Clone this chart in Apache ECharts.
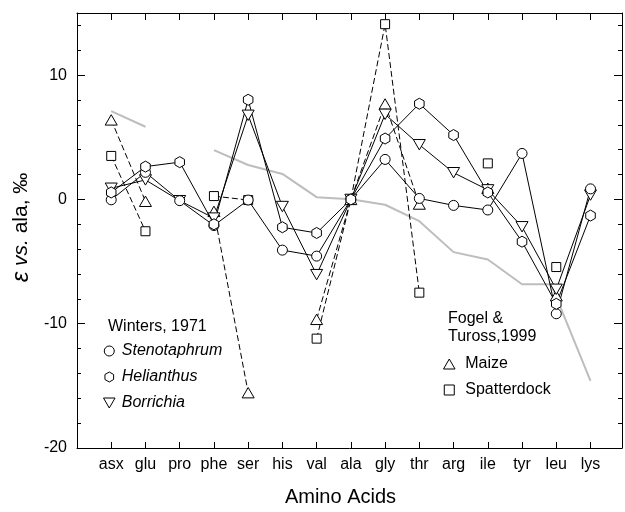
<!DOCTYPE html>
<html>
<head>
<meta charset="utf-8">
<script src="https://cdn.jsdelivr.net/npm/echarts@6/dist/echarts.min.js"></script>
<style>html,body{margin:0;padding:0;background:#fff}#c{width:625px;height:512px}</style>
</head>
<body>
<div id="c"></div>
<script>
// ---- data ----
const categories = ['asx','glu','pro','phe','ser','his','val','ala','gly','thr','arg','ile','tyr','leu','lys'];
const stenotaphrum = [-0.03, 2.18, -0.1, -2.1, -0.05, -4.08, -4.56, 0, 3.22, 0.08, -0.48, -0.85, 3.7, -9.2, 0.85];
const helianthus   = [0.56, 2.64, 3.0, -2.0, 8.02, -2.24, -2.7, 0, 4.9, 7.7, 5.18, 0.56, -3.4, -8.4, -1.3];
const borrichia    = [0.9, 1.57, -0.1, -1.5, 6.77, -0.57, -6.05, 0, 6.85, 4.4, 2.15, 0.77, -2.2, -7.23, 0.35];
const maize        = [6.4, -0.15, null, -0.96, -15.55, null, -9.65, 0, 7.68, -0.37, null, 0.9, null, -7.75, null];
const spatterdock  = [3.5, -2.56, null, 0.27, -0.05, null, -11.2, 0, 14.1, -7.5, null, 2.9, null, -5.44, null];
// grey reference line (x in category units, 1 = asx)
const refX = [1, 2, 3, 4, 5, 6, 7, 8, 9, 10, 11, 12, 13, 13.85, 15];
const refY = [7.1, 5.85, null, 3.97, 2.77, 2.05, 0.18, 0.02, -0.43, -1.75, -4.24, -4.83, -6.83, -6.83, -14.6];
const yLabelValues = [-20, -10, 0, 10];
const yMinorTicks = [-20,-18,-16,-14,-12,-10,-8,-6,-4,-2,0,2,4,6,8,10,12,14];
const yMajorTicks = [-10, 0, 10];

const FONT = 'Liberation Sans, Arial, sans-serif';
const catPos = categories.map((c, i) => i + 1);
const toPairs = arr => arr.map((v, i) => [i + 1, v]);

const SYM = {
  circle: 'circle',
  hexagon: 'path://M0,-1L0.866,-0.5L0.866,0.5L0,1L-0.866,0.5L-0.866,-0.5Z',
  triDown: 'path://M-1,0L1,0L0,1.732Z',
  triUp: 'path://M0,0L1,1.732L-1,1.732Z',
  square: 'path://M0,0L1,0L1,1L0,1Z'
};

function mkSeries(name, arr, symbol, size, dashed) {
  return {
    name: name, type: 'line', data: toPairs(arr),
    symbol: symbol, symbolSize: size, symbolKeepAspect: true,
    showAllSymbol: true, connectNulls: false,
    lineStyle: {color: '#000', width: 1, type: dashed ? [6, 3] : 'solid'},
    itemStyle: {color: '#fff', borderColor: '#000', borderWidth: 1},
    emphasis: {disabled: true}, animation: false, z: 3
  };
}

const chart = echarts.init(document.getElementById('c'), null, {renderer: 'canvas'});
const xBase = {
  type: 'value', min: 0, max: 15.92, gridIndex: 0,
  axisLine: {show: true, onZero: false, lineStyle: {color: '#000', width: 1}},
  splitLine: {show: false}
};
const yBase = {
  type: 'value', min: -20, max: 15,
  axisLine: {show: false, onZero: false},
  splitLine: {show: false},
  axisLabel: {show: false}
};
chart.setOption({
  animation: false,
  grid: {left: 77, top: 13, width: 545, height: 438},
  xAxis: [
    Object.assign({}, xBase, {
      position: 'bottom',
      axisTick: {inside: true, length: 6, lineStyle: {color: '#000'}, customValues: catPos},
      axisLabel: {customValues: catPos, formatter: v => categories[Math.round(v) - 1] || '',
        color: '#000', fontSize: 16, fontFamily: FONT, margin: 9},
      name: 'Amino Acids', nameLocation: 'middle', nameGap: 39,
      nameTextStyle: {color: '#000', fontSize: 20, fontFamily: FONT, padding: [0, 18, 0, 0]}
    }),
    Object.assign({}, xBase, {
      position: 'top',
      axisTick: {inside: true, length: 7, lineStyle: {color: '#000'}, customValues: catPos},
      axisLabel: {show: false}
    })
  ],
  yAxis: [
    Object.assign({}, yBase, {
      position: 'left',
      axisLine: {show: true, onZero: false, lineStyle: {color: '#000', width: 1}},
      axisTick: {inside: true, length: 4, lineStyle: {color: '#000'}, customValues: yMinorTicks},
      axisLabel: {show: true, customValues: yLabelValues, color: '#000', fontSize: 16, fontFamily: FONT, margin: 10},
      name: '{e|ε} {i|vs.} ala, ‰', nameLocation: 'middle', nameGap: 38, nameRotate: 90,
      nameTextStyle: {color: '#000', fontSize: 21, fontFamily: FONT, padding: [0, 0, 0, 6],
        rich: {e: {fontStyle: 'italic', fontSize: 24, fontFamily: FONT, color: '#000'},
               i: {fontStyle: 'italic', fontSize: 21, fontFamily: FONT, color: '#000'}}}
    }),
    Object.assign({}, yBase, {
      position: 'left',
      axisTick: {inside: true, length: 8, lineStyle: {color: '#000'}, customValues: yMajorTicks}
    }),
    Object.assign({}, yBase, {
      position: 'right',
      axisLine: {show: true, onZero: false, lineStyle: {color: '#000', width: 1}},
      axisTick: {inside: true, length: 4, lineStyle: {color: '#000'}, customValues: yMinorTicks}
    }),
    Object.assign({}, yBase, {
      position: 'right',
      axisTick: {inside: true, length: 8, lineStyle: {color: '#000'}, customValues: yMajorTicks}
    })
  ],
  legend: [
    {
      left: 103, top: 343, orient: 'vertical', itemGap: 10, itemWidth: 15, itemHeight: 10,
      padding: 0, selectedMode: false,
      itemStyle: {color: '#fff', borderColor: '#000', borderWidth: 1},
      textStyle: {color: '#000', fontSize: 16, fontFamily: FONT, fontStyle: 'italic'},
      data: [
        {name: 'Stenotaphrum', icon: 'circle'},
        {name: 'Helianthus', icon: SYM.hexagon},
        {name: 'Borrichia', icon: SYM.triDown}
      ]
    },
    {
      left: 443, top: 356, orient: 'vertical', itemGap: 10, itemWidth: 22, itemHeight: 10,
      padding: 0, selectedMode: false,
      itemStyle: {color: '#fff', borderColor: '#000', borderWidth: 1},
      textStyle: {color: '#000', fontSize: 16, fontFamily: FONT},
      data: [
        {name: 'Maize', icon: SYM.triUp},
        {name: 'Spatterdock', icon: SYM.square}
      ]
    }
  ],
  graphic: [
    {type: 'text', left: 108, top: 319, style: {text: 'Winters, 1971', font: '16px ' + FONT, fill: '#000'}},
    {type: 'text', left: 448, top: 311, style: {text: 'Fogel &', font: '16px ' + FONT, fill: '#000'}},
    {type: 'text', left: 448, top: 329, style: {text: 'Tuross,1999', font: '16px ' + FONT, fill: '#000'}}
  ],
  series: [
    {
      name: 'ref', type: 'line', data: refX.map((x, i) => [x, refY[i]]),
      symbol: 'none', connectNulls: false,
      lineStyle: {color: '#bdbdbd', width: 2}, emphasis: {disabled: true}, z: 1
    },
    mkSeries('Spatterdock', spatterdock, SYM.square, 9, true),
    mkSeries('Maize', maize, SYM.triUp, 12, true),
    mkSeries('Borrichia', borrichia, SYM.triDown, 12, false),
    mkSeries('Stenotaphrum', stenotaphrum, 'circle', 10, false),
    mkSeries('Helianthus', helianthus, SYM.hexagon, 11, false)
  ]
});
</script>
</body>
</html>
